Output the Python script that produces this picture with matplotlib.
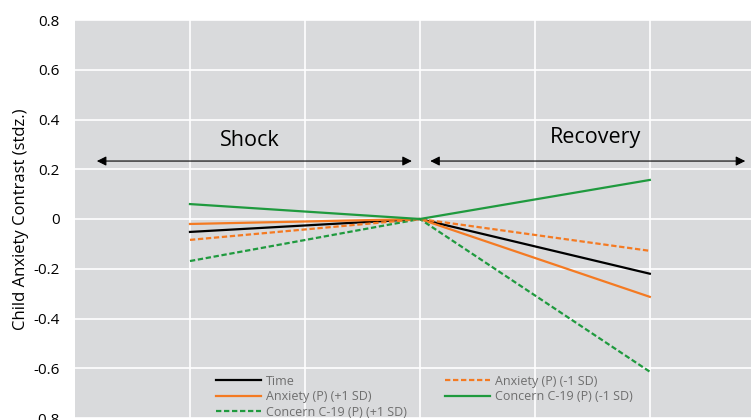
import matplotlib
matplotlib.use("Agg")
import matplotlib.pyplot as plt

plt.rcParams['font.family'] = ['Open Sans', 'DejaVu Sans']
plt.rcParams['axes.unicode_minus'] = False

x_pos = [1, 3, 5]
series_names = ["Time", "Anxiety (P) (+1 SD)", "Concern C-19 (P) (+1 SD)",
                "Anxiety (P) (-1 SD)", "Concern C-19 (P) (-1 SD)"]
time_vals = [-0.052, 0.0, -0.22]
anx_hi = [-0.02, 0.0, -0.313]
conc_hi = [-0.169, 0.0, -0.614]
anx_lo = [-0.084, 0.0, -0.128]
conc_lo = [0.06, 0.0, 0.157]
y_ticks = [-0.8, -0.6, -0.4, -0.2, 0, 0.2, 0.4, 0.6, 0.8]
y_tick_labels = ["-0.8", "-0.6", "-0.4", "-0.2", "0", "0.2", "0.4", "0.6", "0.8"]

black = "#000000"
orange = "#f47a22"
green = "#1f9a3e"

fig = plt.figure(figsize=(7.51, 4.20), dpi=100)
ax = fig.add_axes([75/751, 2/420, 1 - 75/751, 398/420])
ax.set_facecolor("#d9dadc")

dash = (0, (2.4, 1.2))
styles = [
    (time_vals, black, "-"),
    (anx_hi, orange, "-"),
    (conc_hi, green, dash),
    (anx_lo, orange, dash),
    (conc_lo, green, "-"),
]
for (vals, col, ls), name in zip(styles, series_names):
    ax.plot(x_pos, vals, color=col, linestyle=ls, lw=1.6, label=name, zorder=3)

ax.set_xlim(0, 5.88)
ax.set_ylim(-0.8, 0.8)
ax.set_yticks(y_ticks)
ax.set_yticklabels(y_tick_labels)
ax.set_xticks([1, 2, 3, 4, 5])
ax.set_xticklabels([])
ax.tick_params(length=0, labelsize=11, pad=11)
ax.grid(True, color="white", lw=1.2)
ax.set_axisbelow(True)
for s in ax.spines.values():
    s.set_visible(False)
ax.set_ylabel("Child Anxiety Contrast (stdz.)", fontsize=12)
ax.yaxis.set_label_coords(-0.0686, 0.5)

arrow_y = 0.233
arrowprops = dict(arrowstyle="<|-|>", color="black", lw=0.8, mutation_scale=14,
                  shrinkA=0, shrinkB=0)
ax.annotate("", xy=(0.19, arrow_y), xytext=(2.93, arrow_y), arrowprops=arrowprops)
ax.annotate("", xy=(3.09, arrow_y), xytext=(5.83, arrow_y), arrowprops=arrowprops)
ax.text(1.52, 0.315, "Shock", fontsize=15.5, ha="center", va="center")
ax.text(4.53, 0.327, "Recovery", fontsize=15.5, ha="center", va="center")

leg = ax.legend(ncol=2, loc="lower left", bbox_to_anchor=(0.1996, -0.0176),
                frameon=False, fontsize=9, handlelength=3.6, handletextpad=0.4,
                columnspacing=3.0, labelspacing=0.2, borderpad=0.0)
for t in leg.get_texts():
    t.set_color("#6e6e6e")

fig.savefig("out.png", dpi=100)
